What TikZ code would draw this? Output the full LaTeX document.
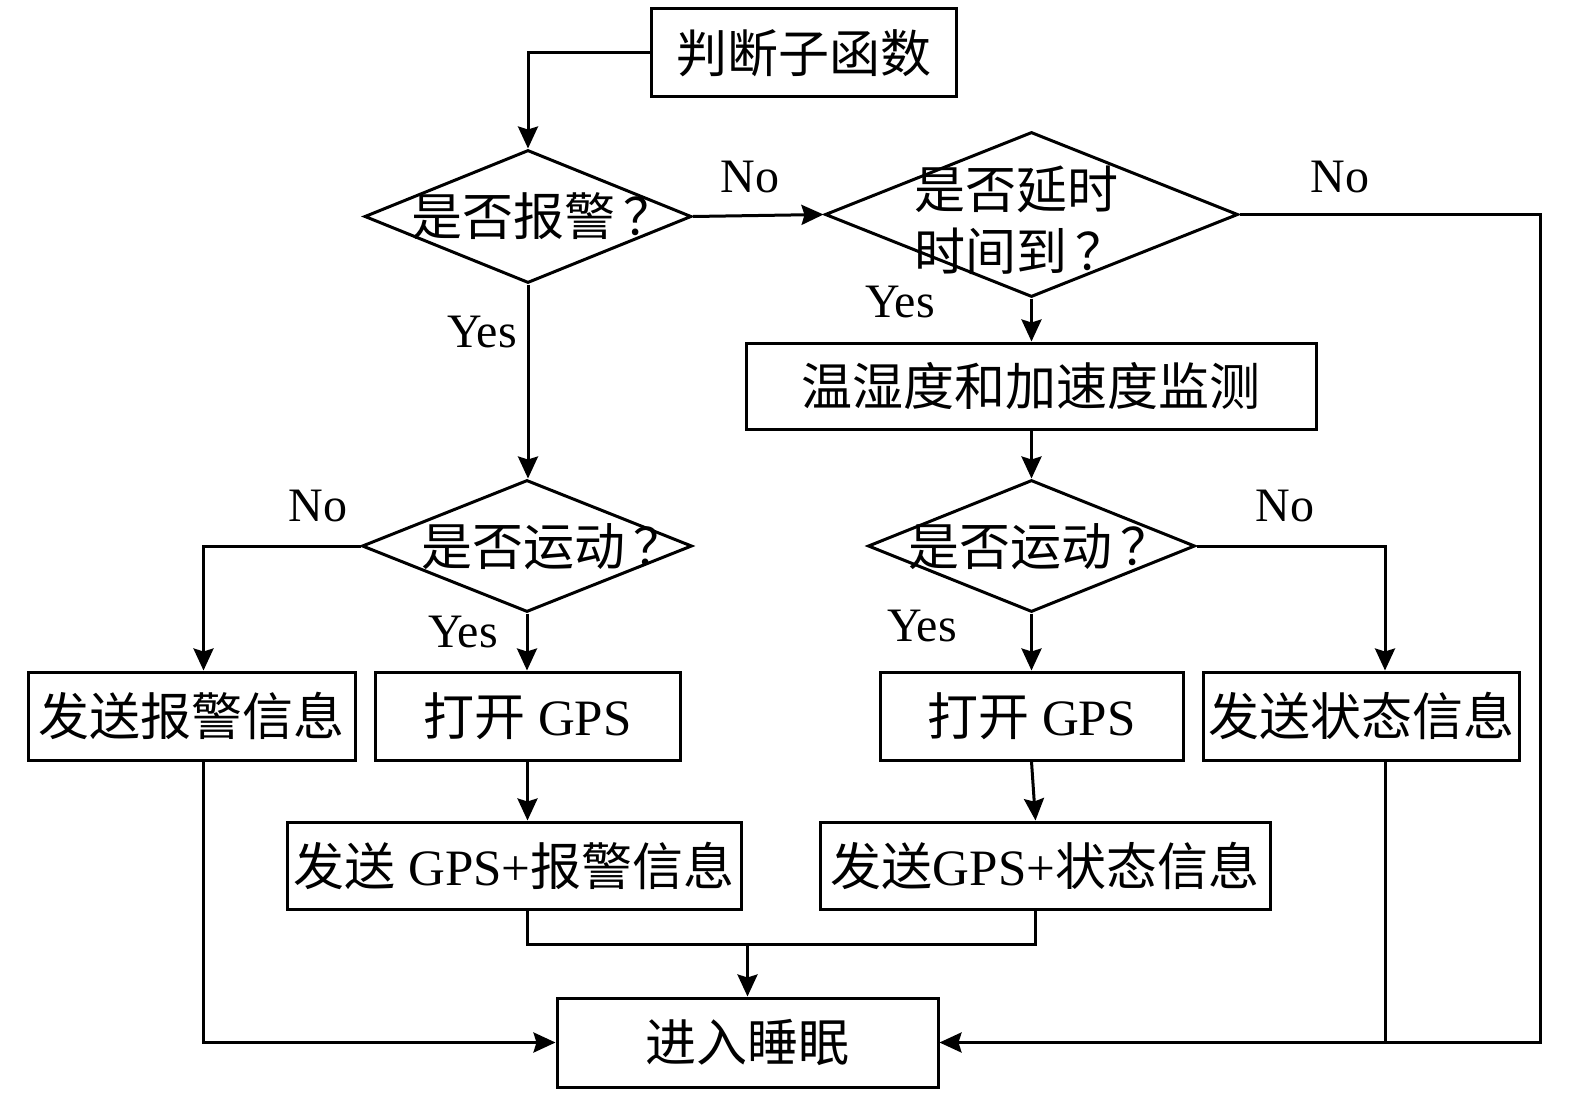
\documentclass[tikz,border=0pt]{standalone}
\usepackage{fontspec}
\setmainfont{Liberation Serif}
\newfontfamily\cjk{Noto Sans CJK SC}
\usetikzlibrary{arrows.meta,shapes.geometric}
\newcommand\bfs{\fontsize{25.5pt}{31pt}\selectfont}
\newcommand\lfs{\fontsize{24pt}{28pt}\selectfont}
\newcommand\qm{\hspace{4pt}？}
\begin{document}
\begin{tikzpicture}[x=0.5pt,y=-0.5pt,line width=1.5pt,
  >={Stealth[length=11pt,width=10pt,inset=1.5pt]},
  box/.style={draw,rectangle,inner sep=0pt,font=\bfs},
  dia/.style={draw,diamond,inner sep=0pt},
  dtxt/.style={font=\bfs,inner sep=0pt},
  lbl/.style={font=\lfs,inner sep=0pt}]
\useasboundingbox (0,0) rectangle (1575,1102);
% nodes
\node[box,minimum width=152.5pt,minimum height=44pt] (judge) at (803.5,53) {\cjk 判断子函数};
\node[dia,minimum width=163.5pt,minimum height=66.5pt] (d1) at (528,216.5) {};
\node[dtxt,anchor=west] (t1) at (410,216) {\cjk 是否报警\qm};
\node[dia,minimum width=206.5pt,minimum height=82.5pt] (d2) at (1031.5,214.5) {};
\node[dtxt,align=left,anchor=west] (t2) at (913,220) {\cjk 是否延时\\\cjk 时间到\qm};
\node[box,minimum width=285pt,minimum height=43pt] (mon) at (1031,386) {\cjk 温湿度和加速度监测};
\node[dia,minimum width=165pt,minimum height=66pt] (d3) at (527,546) {};
\node[dtxt,anchor=west] (t3) at (420,547) {\cjk 是否运动\qm};
\node[dia,minimum width=163.5pt,minimum height=66pt] (d4) at (1031.5,546) {};
\node[dtxt,anchor=west] (t4) at (907,547) {\cjk 是否运动\qm};
\node[box,minimum width=163.5pt,minimum height=44pt] (alarm) at (191.5,716) {\cjk 发送报警信息};
\node[box,minimum width=152.5pt,minimum height=44pt] (gpsL) at (527.5,716) {{\cjk 打开} GPS};
\node[box,minimum width=151.5pt,minimum height=44pt] (gpsR) at (1031.5,716) {{\cjk 打开} GPS};
\node[box,minimum width=158pt,minimum height=44pt] (state) at (1361,716) {\cjk 发送状态信息};
\node[box,minimum width=227pt,minimum height=43.5pt] (sendL) at (514,865.5) {{\cjk 发送} GPS+{\cjk 报警信息}};
\node[box,minimum width=225pt,minimum height=43.5pt] (sendR) at (1045,865.5) {{\cjk 发送}GPS+{\cjk 状态信息}};
\node[box,minimum width=190.5pt,minimum height=44.5pt] (sleep) at (747.5,1042.5) {\cjk 进入睡眠};
% helper coordinates
\coordinate (rx) at (1540,0);
\coordinate (mj) at (747.5,944);
% connectors
\draw[->] (judge.west) -| (d1.north);
\draw[->] (d1.east) -- (d2.west);
\draw[->] (d2.east) -| (rx |- sleep.east) -- (sleep.east);
\draw[->] (d2.south) -- (d2.south |- mon.north);
\draw[->] (d1.south) -- (d1.south |- d3.north);
\draw[->] (mon.south -| d4.north) -- (d4.north);
\draw[->] (d3.west) -| ([xshift=6pt]alarm.north);
\draw[->] (d3.south) -- (d3.south |- gpsL.north);
\draw[->] (d4.east) -| ([xshift=12pt]state.north);
\draw[->] (d4.south) -- (d4.south |- gpsR.north);
\draw[->] (gpsL.south) -- (gpsL.south |- sendL.north);
\draw[->] (gpsR.south) -- ([xshift=2pt]gpsR.south |- sendR.north);
\draw (gpsL.south |- sendL.south) |- (mj) -| ([xshift=2pt]gpsR.south |- sendR.south);
\draw[->] (mj) -- (sleep.north);
\draw[->] ([xshift=6pt]alarm.south) |- (sleep.west);
\draw ([xshift=12pt]state.south) -- ([xshift=12pt]state.south |- sleep.east);
% labels
\node[lbl] (l1) at (750,177) {No};
\node[lbl] (l2) at (1340,177) {No};
\node[lbl] (l3) at (900,302) {Yes};
\node[lbl] (l4) at (482,332) {Yes};
\node[lbl] (l5) at (318,506) {No};
\node[lbl] (l6) at (463,632) {Yes};
\node[lbl] (l7) at (1285,506) {No};
\node[lbl] (l8) at (922,626) {Yes};
\end{tikzpicture}
\end{document}
